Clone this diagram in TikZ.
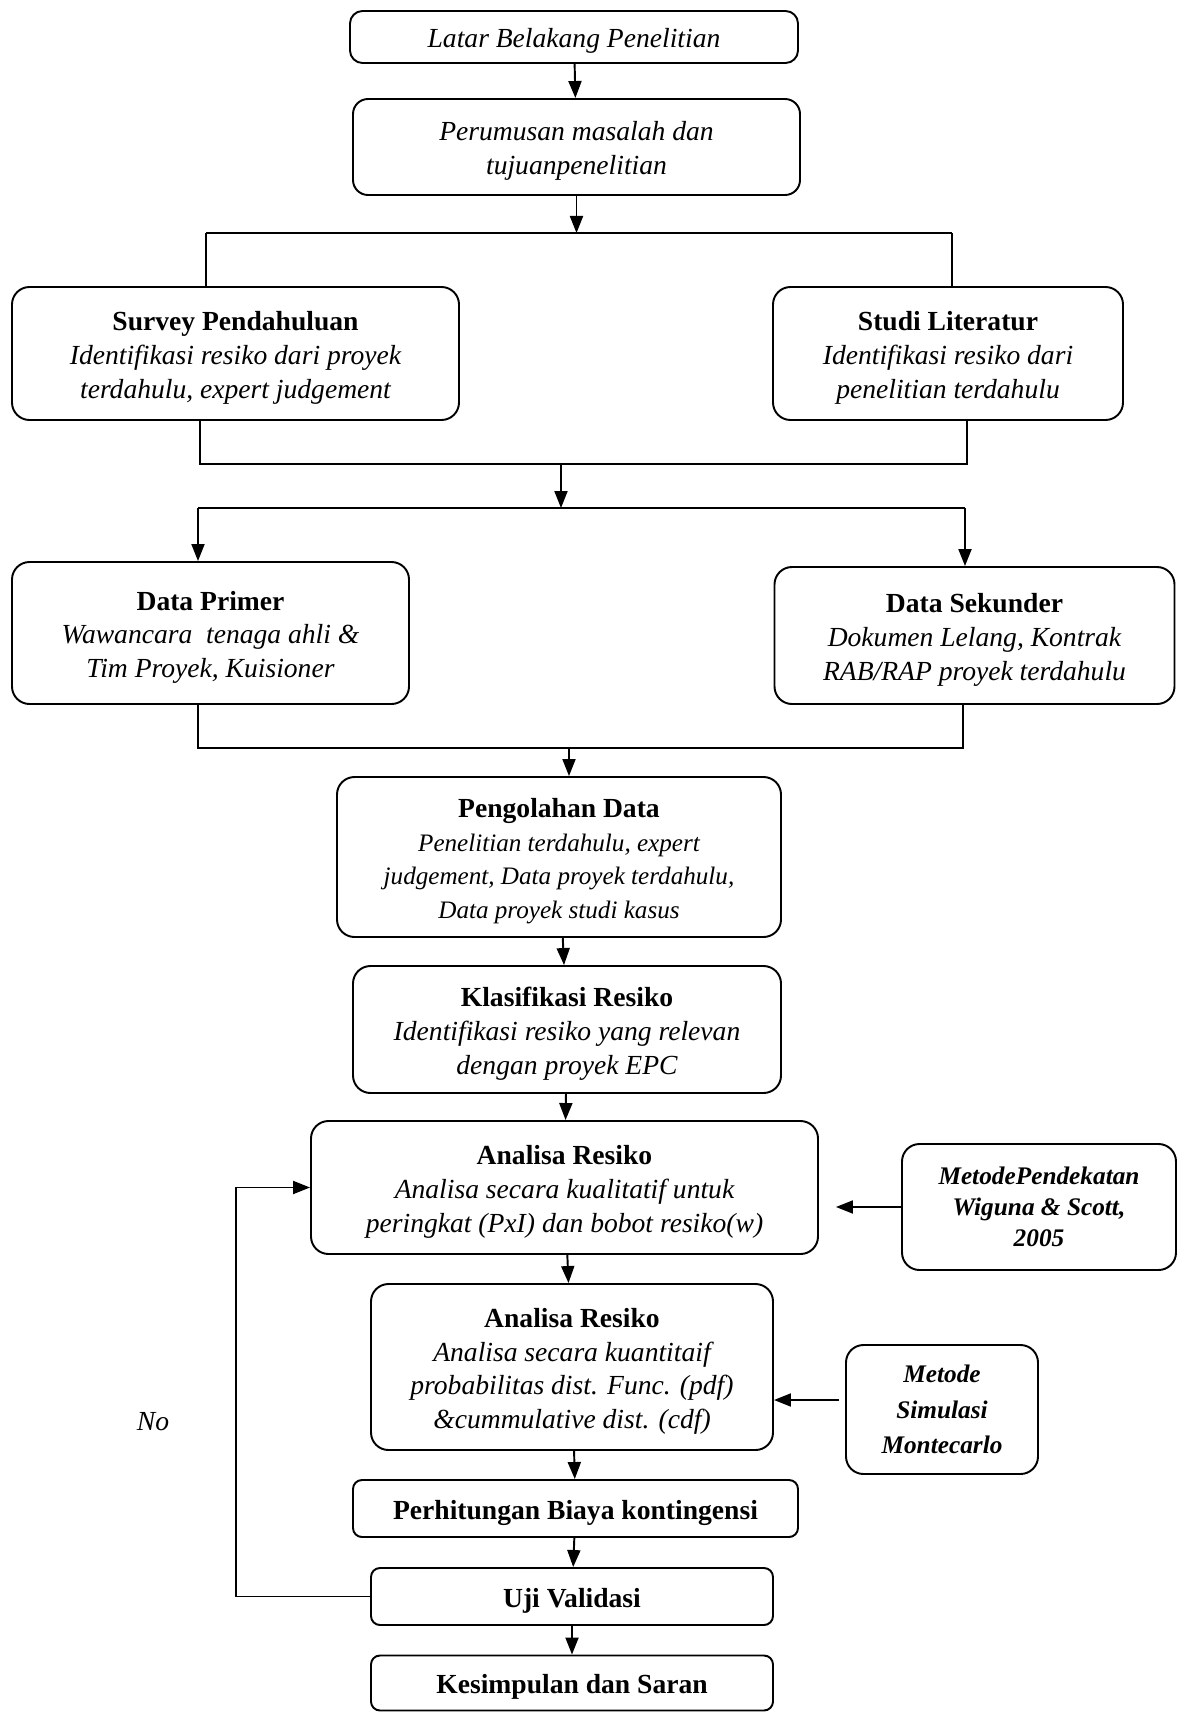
\documentclass[tikz,border=0pt]{standalone}
\usepackage{fontspec}
\setmainfont{Liberation Serif}
\usetikzlibrary{arrows.meta, positioning}

\newcommand{\fbase}{\fontsize{15.7}{19.2}\selectfont}
\newcommand{\fsmall}{\fontsize{14.3}{17.4}\selectfont}
\newcommand{\fmeta}{\fontsize{14.4}{17.6}\selectfont}
\newcommand{\lift}{\rule{0pt}{15.7pt}}
\newcommand{\boxtitle}[1]{\lift\textup{\bfseries #1}}

\begin{document}
\begin{tikzpicture}[
    >={Triangle[length=3.4mm, width=2.6mm]},
    line width=1.1pt,
    boxbase/.style={draw, rounded corners=0.35cm, align=center, inner sep=2pt, font=\fbase\itshape},
    box/.style={boxbase, execute at begin node={\lift}},
    flat/.style={box, rounded corners=0.18cm, font=\fbase\bfseries},
    method/.style={boxbase, font=\fmeta\bfseries\itshape},
]
    \useasboundingbox (0,0) rectangle (23.54,-34.24);

    % top
    \node[box, rounded corners=0.25cm, minimum width=8.96cm, minimum height=1.04cm] (latar) at (11.48,-0.74) {Latar Belakang Penelitian};
    \node[box, rounded corners=0.3cm, minimum width=8.94cm, minimum height=1.92cm] (rumus) at (11.53,-2.94) {\lift Perumusan masalah dan\\tujuanpenelitian};

    % survey / literatur
    \node[box, minimum width=8.94cm, minimum height=2.66cm] (survey) at (4.71,-7.07) {\boxtitle{Survey Pendahuluan}\\Identifikasi resiko dari proyek\\terdahulu, expert judgement};
    \node[box, minimum width=7.0cm, minimum height=2.66cm] (studi) at (18.96,-7.07) {\boxtitle{Studi Literatur}\\Identifikasi resiko dari\\penelitian terdahulu};

    % data
    \node[box, minimum width=7.94cm, minimum height=2.84cm] (primer) at (4.21,-12.66) {\boxtitle{Data Primer}\\Wawancara\ \ tenaga ahli \&\\Tim Proyek, Kuisioner};
    \node[box, minimum width=8.0cm, minimum height=2.74cm] (sekunder) at (19.49,-12.71) {\boxtitle{Data Sekunder}\\Dokumen Lelang, Kontrak\\RAB/RAP proyek terdahulu};

    % main column
    \node[box, minimum width=8.88cm, minimum height=3.2cm] (olah) at (11.18,-17.14) {\boxtitle{Pengolahan Data}\\{\fsmall Penelitian terdahulu, expert}\\{\fsmall judgement, Data proyek terdahulu,}\\{\fsmall Data proyek studi kasus}};
    \node[box, minimum width=8.56cm, minimum height=2.54cm] (klas) at (11.34,-20.59) {\boxtitle{Klasifikasi Resiko}\\Identifikasi resiko yang relevan\\dengan proyek EPC};
    \node[box, minimum width=10.14cm, minimum height=2.66cm] (anal1) at (11.29,-23.75) {\boxtitle{Analisa Resiko}\\Analisa secara kualitatif untuk\\peringkat (PxI) dan bobot resiko(w)};
    \node[box, minimum width=8.04cm, minimum height=3.32cm] (anal2) at (11.44,-27.34) {\boxtitle{Analisa Resiko}\\Analisa secara kuantitaif\\probabilitas dist. Func. (pdf)\\\&cummulative dist. (cdf)};
    \node[flat, minimum width=8.9cm, minimum height=1.14cm] (biaya) at (11.51,-30.17) {Perhitungan Biaya kontingensi};
    \node[flat, minimum width=8.04cm, minimum height=1.14cm] (uji) at (11.44,-31.93) {Uji Validasi};
    \node[flat, minimum width=8.04cm, minimum height=1.1cm] (kes) at (11.44,-33.66) {Kesimpulan dan Saran};

    % methods
    \node[method, minimum width=5.48cm, minimum height=2.52cm] (wiguna) at (20.78,-24.14) {MetodePendekatan\\Wiguna \& Scott,\\2005};
    \node[method, font=\fontsize{14.4}{20.1}\selectfont\bfseries\itshape, minimum width=3.84cm, minimum height=2.58cm] (monte) at (18.84,-28.19) {Metode\\Simulasi\\Montecarlo};

    \node[font=\fbase\itshape] (no) at (3.06,-28.44) {No};

    % branch points
    \coordinate (s1m) at (11.53,-4.66);
    \coordinate (s1l) at (4.12,-4.66);
    \coordinate (s1r) at (19.04,-4.66);
    \coordinate (j1l) at (4.0,-9.28);
    \coordinate (j1r) at (19.34,-9.28);
    \coordinate (j1m) at (11.22,-9.28);
    \coordinate (s2l) at (3.96,-10.16);
    \coordinate (s2r) at (19.3,-10.16);
    \coordinate (s2m) at (11.22,-10.16);
    \coordinate (j2l) at (3.96,-14.96);
    \coordinate (j2r) at (19.26,-14.96);
    \coordinate (j2m) at (11.38,-14.96);
    \coordinate (back) at (4.72,-31.93);

    \draw[->] (latar) -- (rumus);
    \draw[->] (rumus) -- (s1m);
    \draw (s1l) -- (s1r);
    \draw (s1l) -- (s1l |- survey.north);
    \draw (s1r) -- (s1r |- studi.north);

    \draw (survey.south -| j1l) -- (j1l) -- (j1r) -- (studi.south -| j1r);
    \draw[->] (j1m) -- (s2m);
    \draw (s2l) -- (s2r);
    \draw[->] (s2l) -- (s2l |- primer.north);
    \draw[->] (s2r) -- (s2r |- sekunder.north);

    \draw (primer.south -| j2l) -- (j2l) -- (j2r) -- (sekunder.south -| j2r);
    \draw[->] (j2m) -- (j2m |- olah.north);

    \draw[->] (olah) -- (klas);
    \draw[->] (klas) -- (anal1);
    \draw[->] (anal1) -- (anal2);
    \draw[->] (anal2) -- (biaya);
    \draw[->] (biaya) -- (uji);
    \draw[->] (uji) -- (kes);

    \draw[->, shorten >=0.34cm] (wiguna.west) -- (wiguna.west -| anal1.east);
    \draw[->, shorten <=0.12cm] ([yshift=0.19cm]monte.west) -- ([yshift=0.19cm]monte.west -| anal2.east);

    \draw[->] (uji.west) -- (back) |- (anal1.west);
\end{tikzpicture}
\end{document}
